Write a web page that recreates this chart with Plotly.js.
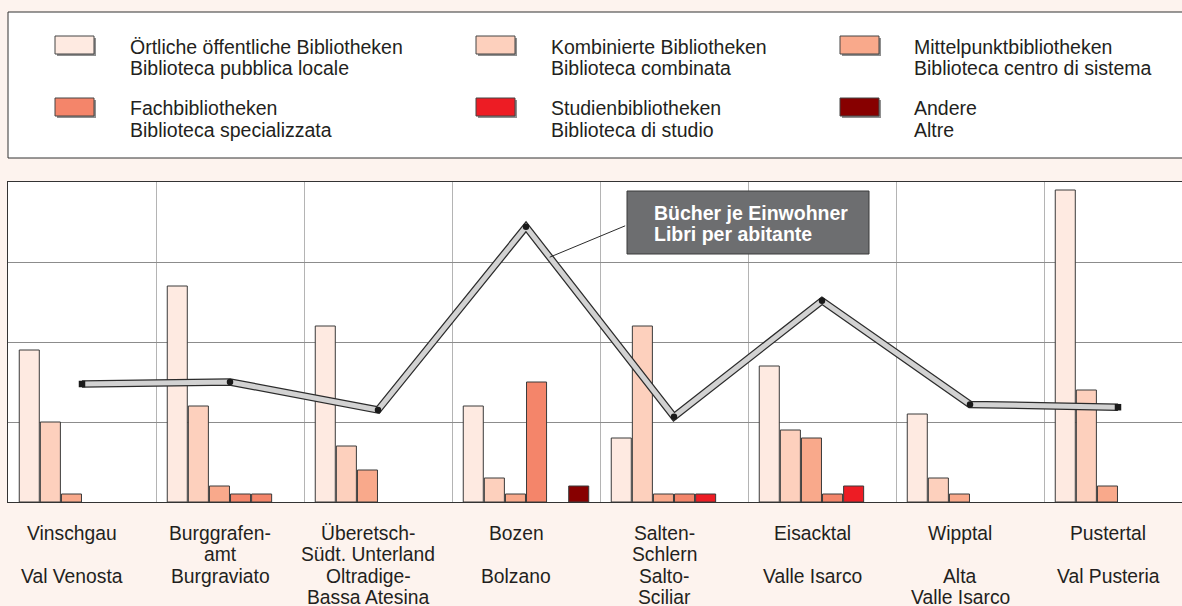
<!DOCTYPE html>
<html>
<head>
<meta charset="utf-8">
<script src="https://cdn.plot.ly/plotly-3.0.1.min.js"></script>
<style>
html, body { margin: 0; padding: 0; overflow: hidden; background: #fdf3ee; }
#chart { width: 1182px; height: 606px; }
</style>
</head>
<body>
<div id="chart"></div>
<script>
// ---- data ----
const categories = ['Vinschgau', 'Burggrafenamt', 'Überetsch-Südt. Unterland', 'Bozen', 'Salten-Schlern', 'Eisacktal', 'Wipptal', 'Pustertal'];
const tickLabels = [
  'Vinschgau<br><br>Val Venosta',
  'Burggrafen-<br>amt<br>Burgraviato',
  'Überetsch-<br>Südt. Unterland<br>Oltradige-<br>Bassa Atesina',
  'Bozen<br><br>Bolzano',
  'Salten-<br>Schlern<br>Salto-<br>Sciliar',
  'Eisacktal<br><br>Valle Isarco',
  'Wipptal<br><br>Alta<br>Valle Isarco',
  'Pustertal<br><br>Val Pusteria'
];
const seriesNames = [
  'Örtliche öffentliche Bibliotheken<br>Biblioteca pubblica locale',
  'Kombinierte Bibliotheken<br>Biblioteca combinata',
  'Mittelpunktbibliotheken<br>Biblioteca centro di sistema',
  'Fachbibliotheken<br>Biblioteca specializzata',
  'Studienbibliotheken<br>Biblioteca di studio',
  'Andere<br>Altre'
];
const oertliche   = [19, 27, 22, 12, 8, 17, 11, 39];
const kombinierte = [10, 12, 7, 3, 22, 9, 3, 14];
const mittelpunkt = [1, 2, 4, 1, 1, 8, 1, 2];
const fach        = [null, 1, null, 15, 1, 1, null, null];
const studien     = [null, 1, null, null, 1, 2, null, null];
const andere      = [null, null, null, 2, null, null, null, null];
const buecherJeEinwohner = [2.95, 3.0, 2.3, 6.88, 2.13, 5.03, 2.44, 2.37];
const lineLabel = ['Bücher je Einwohner', 'Libri per abitante'];

const seriesColors = ['#feeae1', '#fdd0bd', '#f9a98b', '#f4856a', '#ed1c24', '#870000'];
const studienColors = ['#ed1c24', '#f4856a', '#ed1c24', '#ed1c24', '#ed1c24', '#ed1c24', '#ed1c24', '#ed1c24'];
const seriesValues = [oertliche, kombinierte, mittelpunkt, fach, studien, andere];

// ---- geometry helpers (page pixels -> paper) ----
const L = 8, R = 1182, T = 182, B = 502;
const px = x => (x - L) / (R - L);
const py = y => (B - y) / (B - T);
const FONT = '"Liberation Sans", Arial, Helvetica, sans-serif';
const TXT = '#231f20';
const midOf = (baseline, fs) => baseline - 0.3465 * fs;

const traces = seriesValues.map((vals, i) => ({
  type: 'bar',
  x: categories,
  y: vals,
  name: seriesNames[i],
  marker: {
    color: i === 4 ? studienColors : seriesColors[i],
    line: { color: '#3a3a3a', width: 1 }
  },
  hoverinfo: 'skip',
  showlegend: false
}));

traces.push({
  type: 'scatter', mode: 'lines', x: categories, y: buecherJeEinwohner, yaxis: 'y2',
  line: { color: '#2b2b2b', width: 7.5 }, hoverinfo: 'skip', showlegend: false
});
traces.push({
  type: 'scatter', mode: 'lines', x: categories, y: buecherJeEinwohner, yaxis: 'y2',
  line: { color: '#d2d2d2', width: 5 }, hoverinfo: 'skip', showlegend: false
});
traces.push({
  type: 'scatter', mode: 'markers', x: categories, y: buecherJeEinwohner, yaxis: 'y2',
  marker: {
    color: '#1a1a1a', size: 6.5,
    symbol: buecherJeEinwohner.map((v, i) => (i === 0 || i === buecherJeEinwohner.length - 1) ? 'square' : 'circle')
  },
  hoverinfo: 'skip', showlegend: false
});

// ---- custom legend (shapes + annotations) ----
const shapes = [];
const annotations = [];
shapes.push({
  type: 'rect', xref: 'paper', yref: 'paper',
  x0: px(8), x1: px(1200), y0: py(12), y1: py(158),
  fillcolor: '#ffffff', line: { color: '#333333', width: 1 }, layer: 'above'
});
const swX = [55, 476, 840];
const txtX = [128, 549, 912];
const swY = [36, 98];
const legBase = [[53.3, 74.3], [115, 136.5]];
const LEG_FS = 19.5;
seriesNames.forEach((name, i) => {
  const col = i % 3, row = Math.floor(i / 3);
  const x0 = swX[col], y0 = swY[row];
  shapes.push({
    type: 'rect', xref: 'paper', yref: 'paper',
    x0: px(x0 + 2), x1: px(x0 + 41), y0: py(y0 + 2), y1: py(y0 + 20),
    fillcolor: '#8f8f8f', line: { width: 0 }, layer: 'above'
  });
  shapes.push({
    type: 'rect', xref: 'paper', yref: 'paper',
    x0: px(x0), x1: px(x0 + 39), y0: py(y0), y1: py(y0 + 18),
    fillcolor: seriesColors[i], line: { color: '#444444', width: 1 }, layer: 'above'
  });
  name.split('<br>').forEach((ln, j) => {
    annotations.push({
      xref: 'paper', yref: 'paper', x: px(txtX[col]), y: py(midOf(legBase[row][j], LEG_FS)),
      xanchor: 'left', yanchor: 'middle', align: 'left', showarrow: false,
      text: ln, font: { family: FONT, size: LEG_FS, color: TXT }
    });
  });
});

// ---- category labels (one annotation per line, under each category) ----
const AX_FS = 19.3;
tickLabels.forEach((lbl, i) => {
  lbl.split('<br>').forEach((ln, j) => {
    if (!ln.trim()) return;
    annotations.push({
      xref: 'x', yref: 'paper', x: categories[i], y: py(midOf(540 + 21.5 * j, AX_FS)),
      xanchor: 'center', yanchor: 'middle', xshift: -10, showarrow: false,
      text: ln, font: { family: FONT, size: AX_FS, color: TXT }
    });
  });
});

// ---- line label box ----
const BOX_FS = 19.5;
shapes.push({
  type: 'rect', xref: 'paper', yref: 'paper',
  x0: px(627), x1: px(869), y0: py(191), y1: py(254),
  fillcolor: '#6d6e70', line: { color: '#3a3a3a', width: 1 }, layer: 'above'
});
[219.5, 240.5].forEach((bl, j) => {
  annotations.push({
    xref: 'paper', yref: 'paper', x: px(652), y: py(midOf(bl, BOX_FS)), xanchor: 'left', yanchor: 'middle',
    showarrow: false, text: '<b>' + lineLabel[j] + '</b>',
    font: { family: FONT, size: BOX_FS, color: '#ffffff' }
  });
});
// leader line from the box to the line trace
const t = 0.16;
annotations.push({
  x: 3 + t, y: buecherJeEinwohner[3] + t * (buecherJeEinwohner[4] - buecherJeEinwohner[3]),
  xref: 'x', yref: 'y2', text: '', showarrow: true, arrowhead: 0, arrowwidth: 1,
  arrowcolor: '#2b2b2b', ax: 77, ay: -32, standoff: 0, startstandoff: 0
});

const layout = {
  width: 1182, height: 606,
  margin: { l: L, r: 0, t: T, b: 606 - B, pad: 0 },
  paper_bgcolor: '#fdf3ee',
  plot_bgcolor: '#ffffff',
  barmode: 'group',
  bargap: 0.145,
  bargroupgap: 0.05,
  showlegend: false,
  font: { family: FONT, color: TXT },
  xaxis: {
    type: 'category',
    categoryarray: categories, categoryorder: 'array',
    range: [-0.5, -0.5 + (R - L) / 148],
    tickson: 'boundaries',
    ticks: '', showticklabels: false,
    showgrid: true, gridcolor: '#b4b4b4', gridwidth: 1,
    showline: true, linecolor: '#333333', linewidth: 1, mirror: true,
    zeroline: false, fixedrange: true
  },
  yaxis: {
    range: [0, 40], dtick: 10, tick0: 0,
    showgrid: true, gridcolor: '#8c8c8c', gridwidth: 1,
    showticklabels: false, ticks: '',
    showline: true, linecolor: '#333333', linewidth: 1,
    zeroline: false, fixedrange: true
  },
  yaxis2: {
    range: [0, 8], overlaying: 'y', side: 'right',
    showgrid: false, showticklabels: false, ticks: '', showline: false,
    zeroline: false, fixedrange: true
  },
  shapes: shapes,
  annotations: annotations
};

Plotly.newPlot('chart', traces, layout, { displayModeBar: false, staticPlot: true });
</script>
</body>
</html>
